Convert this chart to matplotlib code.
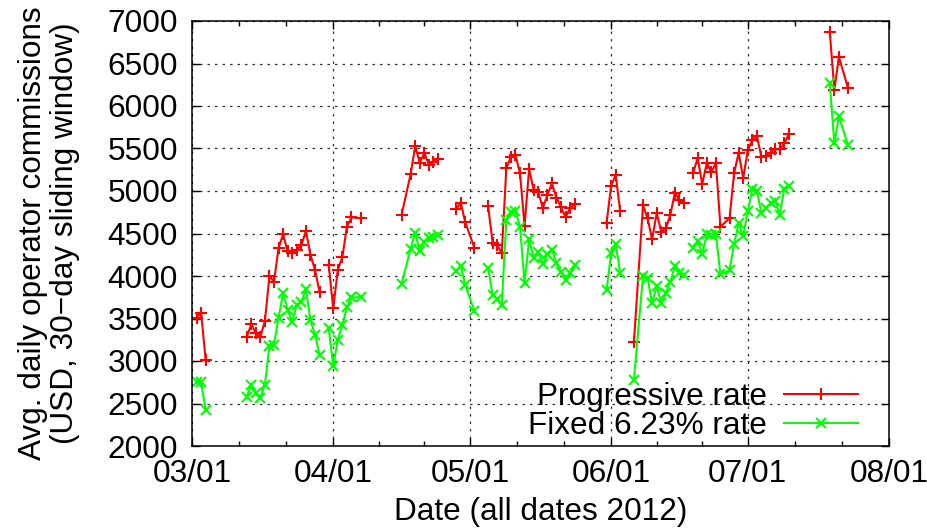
import numpy as np
import pandas as pd
import matplotlib
matplotlib.use("Agg")
from matplotlib import pyplot as plt
import matplotlib.dates as mdates

plt.rcParams['font.family'] = ['Liberation Sans', 'DejaVu Sans']
plt.rcParams['font.size'] = 22.7

# dates (2012); rows with NaN are days with no data (line breaks)
dates = [
    "03-02", "03-03", "03-04", "03-05",
    "03-13", "03-14", "03-15", "03-16", "03-17", "03-18", "03-19", "03-20", "03-21",
    "03-22", "03-23", "03-24", "03-25", "03-26", "03-27", "03-28", "03-29", "03-30",
    "03-31", "04-01", "04-02", "04-03", "04-04", "04-05", "04-07", "04-08",
    "04-16", "04-18", "04-19", "04-20", "04-21", "04-22", "04-23", "04-24", "04-25",
    "04-28", "04-29", "04-30", "05-02", "05-03",
    "05-05", "05-06", "05-07", "05-08", "05-09", "05-10", "05-11", "05-12", "05-13",
    "05-14", "05-15", "05-16", "05-17", "05-18", "05-19", "05-20", "05-21", "05-22",
    "05-23", "05-24", "05-25",
    "05-31", "06-01", "06-02", "06-03", "06-04",
    "06-06", "06-08", "06-09", "06-10", "06-11", "06-12", "06-13", "06-14", "06-15",
    "06-16", "06-17", "06-18",
    "06-19", "06-20", "06-21", "06-22", "06-23", "06-24", "06-25", "06-27", "06-28",
    "06-29", "06-30", "07-01", "07-02", "07-03", "07-04", "07-05", "07-06", "07-07",
    "07-08", "07-09", "07-10", "07-11",
    "07-19", "07-20", "07-21", "07-23",
]

nan = np.nan
progressive = [
    3510, 3570, 3010, nan,
    3280, 3430, 3330, 3280, 3470, 4000, 3930, 4330, 4490,
    4290, 4270, 4310, 4360, 4530, 4250, 4070, 3810, nan,
    4130, 3620, 4070, 4220, 4580, 4690, 4680, nan,
    4720, 5200, 5530, 5330, 5450, 5310, 5340, 5380, nan,
    4790, 4860, 4630, 4330, nan,
    4820, 4390, 4360, 4270, 5270, 5400, 5420, 5210, 4590,
    5260, 5010, 4990, 4800, 4950, 5090, 4920, 4810, 4690,
    4800, 4850, nan,
    4620, 5060, 5190, 4760, nan,
    3220, 4830, 4680, 4430, 4740, 4520, 4560, 4720, 4980,
    4890, 4860, nan,
    5210, 5390, 5080, 5330, 5220, 5330, 4580, 4680, 5210,
    5450, 5150, 5480, 5600, 5650, 5400, 5410, 5450, 5490,
    5490, 5560, 5670, nan,
    6870, 6190, 6580, 6210,
]

fixed = [
    2750, 2750, 2420, nan,
    2580, 2720, 2620, 2570, 2720, 3180, 3190, 3510, 3800,
    3600, 3460, 3660, 3690, 3850, 3480, 3310, 3070, nan,
    3390, 2940, 3250, 3420, 3630, 3750, 3750, nan,
    3910, 4320, 4510, 4290, 4400, 4450, 4460, 4480, nan,
    4060, 4120, 3890, 3590, nan,
    4090, 3780, 3730, 3660, 4660, 4750, 4770, 4580, 3920,
    4430, 4210, 4280, 4140, 4260, 4310, 4150, 4050, 3950,
    4030, 4130, nan,
    3830, 4270, 4380, 4030, nan,
    2780, 4000, 3980, 3680, 3880, 3680, 3800, 3930, 4120,
    4030, 4010, nan,
    4330, 4410, 4260, 4490, 4480, 4490, 4020, 4070, 4380,
    4620, 4470, 4760, 5020, 5000, 4740, 4800, 4860, 4880,
    4720, 5020, 5060, nan,
    6270, 5560, 5880, 5540,
]

series_labels = ["Progressive rate", "Fixed 6.23% rate"]
y_ticks = [2000, 2500, 3000, 3500, 4000, 4500, 5000, 5500, 6000, 6500, 7000]
month_starts = ["2012-03-01", "2012-04-01", "2012-05-01", "2012-06-01",
                "2012-07-01", "2012-08-01"]

x = pd.to_datetime(["2012-" + d for d in dates])
months = pd.to_datetime(month_starts)

fig = plt.figure(figsize=(9.27, 5.29), dpi=100)
ax = fig.add_axes([192 / 927, 1 - 446 / 529, 697 / 927, 425 / 529])

ax.plot(x, progressive, color="#ff0000", lw=1.5, marker="+", ms=8, mew=1.5,
        label=series_labels[0])
ax.plot(x, fixed, color="#00ff00", lw=1.5, marker="x", ms=6.5, mew=1.5,
        label=series_labels[1])

ax.set_xlim(months[0], months[-1])
ax.set_ylim(2000, 7000)
ax.set_yticks(y_ticks)
ax.set_xticks(months)
ax.xaxis.set_major_formatter(mdates.DateFormatter("%m/%d"))

# two minor ticks inside every month
mnum = mdates.date2num(months)
minors = []
for a, b in zip(mnum[:-1], mnum[1:]):
    minors += [a + (b - a) / 3, a + 2 * (b - a) / 3]
ax.set_xticks(minors, minor=True)

ax.tick_params(which="both", direction="in", top=True, right=True, width=1)
ax.tick_params(which="major", length=6)
ax.tick_params(which="minor", length=3.5)
ax.tick_params(axis="x", pad=9)
ax.tick_params(axis="y", pad=10)
for s in ax.spines.values():
    s.set_linewidth(1.1)

ax.grid(True, which="major", color="#333333", linestyle=(0, (2, 4)), lw=0.9)

ax.set_xlabel("Date (all dates 2012)")
ax.xaxis.set_label_coords(0.5, -(527 - 446) / 425)
ax.xaxis.label.set_va("bottom")
ax.set_ylabel("Avg. daily operator commissions\n(USD, 30\u2212day sliding window)",
              linespacing=1.08)
ax.yaxis.set_label_coords(-(192 - 80) / 697, 0.5)

ax.legend(loc="lower right", bbox_to_anchor=(0.9555, 0.012), frameon=False,
          markerfirst=False, handlelength=2.35, handletextpad=0.54,
          labelspacing=-0.05, borderpad=0, borderaxespad=0, numpoints=1)

fig.savefig("out.png", dpi=100)
